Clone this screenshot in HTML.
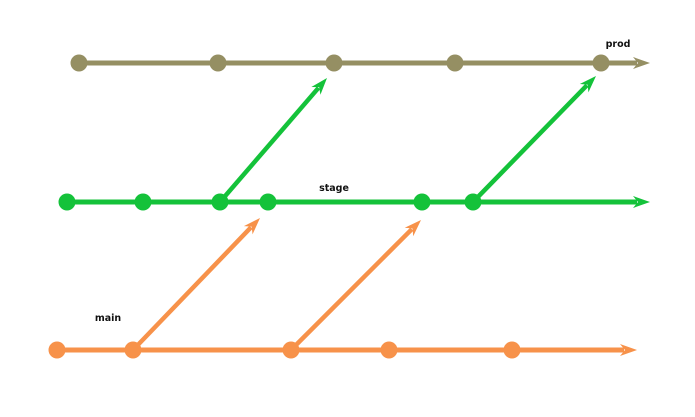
<!DOCTYPE html>
<html><head><meta charset="utf-8"><style>
html,body{margin:0;padding:0;background:#fff;width:695px;height:417px;overflow:hidden}
text{font-family:"DejaVu Sans","Liberation Sans",sans-serif;font-weight:bold;font-size:9.5px;fill:#111}
</style></head><body>
<svg id="chart" width="695" height="417" viewBox="0 0 695 417"></svg>
<script>
const branchNames = ["prod","stage","main"];
const branchY = [63,202,350];
const branchStart = [79,59,52];
const branchEnd = [650,650,637];
const branchColors = ["#958f63","#14c23a","#f7924a"];
const commitsProd = [79,218,334,455,601];
const commitsStage = [67,143,220,268,422,473];
const commitsMain = [57,133,291,389,512];
const commits = [commitsProd, commitsStage, commitsMain];
const labelX = [618,334,108];
const labelY = [47,191,321];
const mergeFrom = [1,1,2,2];
const mergeFromX = [220,473,133,291];
const mergeToX = [327,596,260,421];
const mergeToY = [78,76,218,220];

const NS="http://www.w3.org/2000/svg";
const svg=document.getElementById('chart');
function mk(t,a){const e=document.createElementNS(NS,t);for(const k in a)e.setAttribute(k,a[k]);svg.appendChild(e);return e;}
function arrow(x1,y1,x2,y2,color,w,name){
  const ang=Math.atan2(y2-y1,x2-x1),L=17,H=6;
  const bx=x2-L*Math.cos(ang),by=y2-L*Math.sin(ang);
  const l=mk('line',{x1:x1,y1:y1,x2:bx+4*Math.cos(ang),y2:by+4*Math.sin(ang),stroke:color,'stroke-width':w});
  
  
  const p=mk('polygon',{points:`${x2},${y2} ${bx-H*Math.sin(ang)},${by+H*Math.cos(ang)} ${bx+5*Math.cos(ang)},${by+5*Math.sin(ang)} ${bx+H*Math.sin(ang)},${by-H*Math.cos(ang)}`,fill:color});
  
  
}
for(let b=0;b<3;b++){
  arrow(branchStart[b],branchY[b],branchEnd[b],branchY[b],branchColors[b],5,branchNames[b]+'-branch');
}
for(let m=0;m<mergeFrom.length;m++){
  const b=mergeFrom[m];
  arrow(mergeFromX[m],branchY[b],mergeToX[m],mergeToY[m],branchColors[b],4.5,'merge-'+branchNames[b]+'-'+m);
}
for(let b=0;b<3;b++){
  commits[b].forEach((x,i)=>{
    const c=mk('circle',{cx:x,cy:branchY[b],r:8.5,fill:branchColors[b]});
    
    
  });
  const t=mk('text',{x:labelX[b],y:labelY[b],'text-anchor':'middle'});
  t.textContent=branchNames[b];
  
  
}
</script>
</body></html>
